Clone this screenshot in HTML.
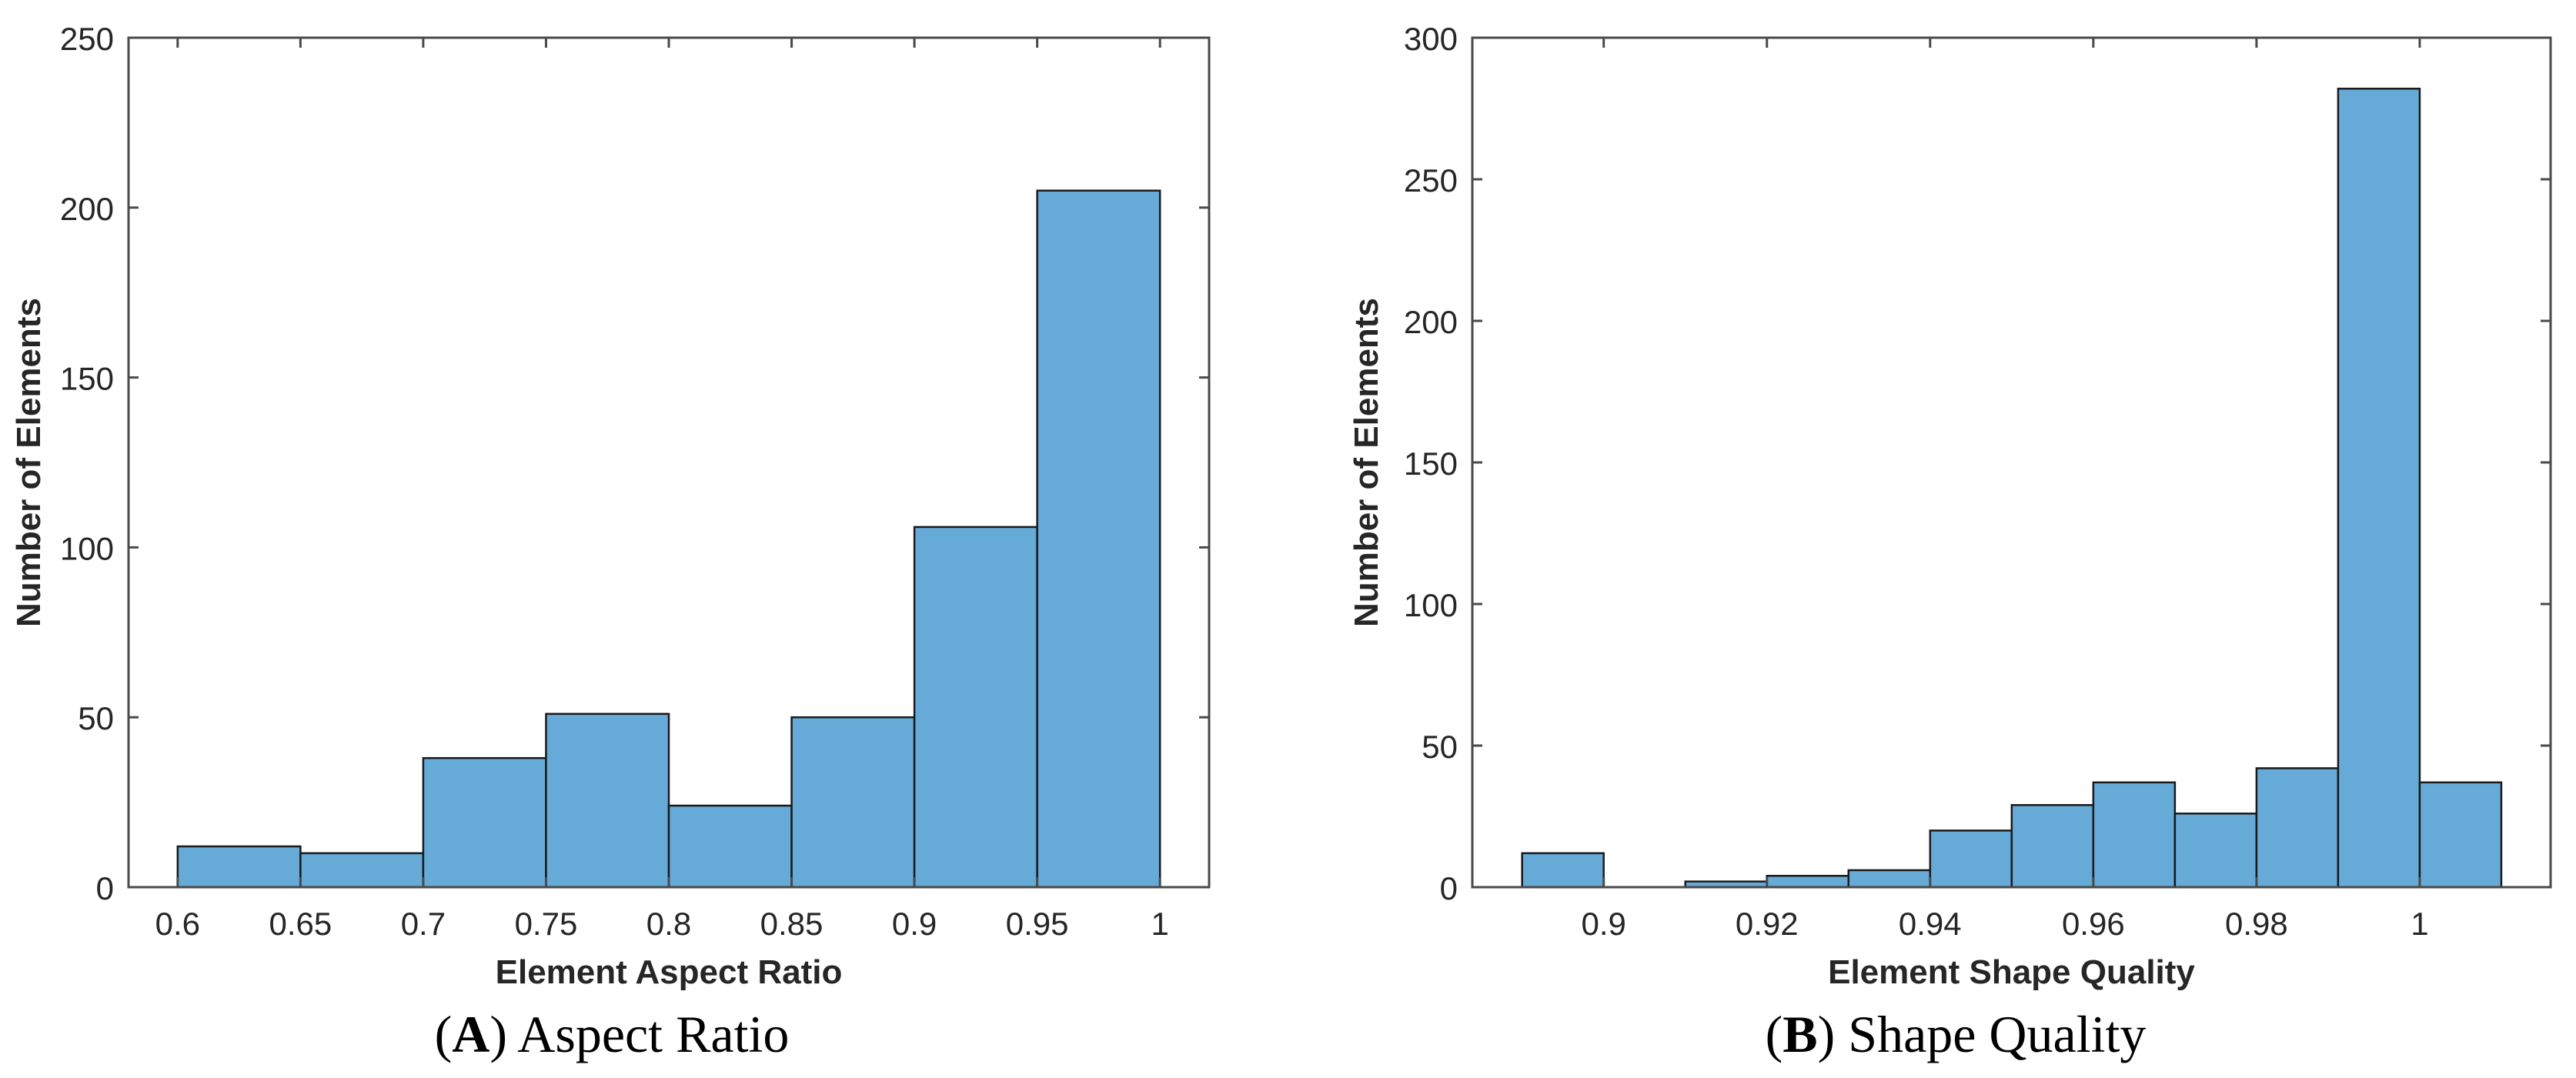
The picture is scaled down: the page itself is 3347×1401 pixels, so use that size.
<!DOCTYPE html>
<html><head><meta charset="utf-8"><style>
html,body{margin:0;padding:0;background:#fff;}
svg{display:block;}
</style></head><body>
<svg id="fig" width="3347" height="1401" viewBox="0 0 3347 1401" xmlns="http://www.w3.org/2000/svg"></svg>
<script>
const aEdges = [0.6,0.65,0.7,0.75,0.8,0.85,0.9,0.95,1.0];
const aCounts = [12,10,38,51,24,50,106,205];
const aXTicks = [0.6,0.65,0.7,0.75,0.8,0.85,0.9,0.95,1];
const aXTickLabels = ["0.6","0.65","0.7","0.75","0.8","0.85","0.9","0.95","1"];
const aYTicks = [0,50,100,150,200,250];
const bEdges = [0.89,0.90,0.91,0.92,0.93,0.94,0.95,0.96,0.97,0.98,0.99,1.00,1.01];
const bCounts = [12,0,2,4,6,20,29,37,26,42,282,37];
const bXTicks = [0.9,0.92,0.94,0.96,0.98,1];
const bXTickLabels = ["0.9","0.92","0.94","0.96","0.98","1"];
const bYTicks = [0,50,100,150,200,250,300];

const NS="http://www.w3.org/2000/svg";
const svg=document.getElementById('fig');
function mk(tag,attrs,parent){const e=document.createElementNS(NS,tag);for(const k in attrs)e.setAttribute(k,attrs[k]);(parent||svg).appendChild(e);return e;}

function panel(cfg){
  const g=mk('g',{});
  
  
  const {L,R,T,B,xmin,xmax,ymax}=cfg;
  const sx=v=>L+(v-xmin)/(xmax-xmin)*(R-L);
  const sy=v=>B-v/ymax*(B-T);
  for(let i=0;i<cfg.counts.length;i++){
    if(cfg.counts[i]<=0)continue;
    const x0=sx(cfg.edges[i]),x1=sx(cfg.edges[i+1]),y=sy(cfg.counts[i]);
    const r=mk('rect',{x:x0,y:y,width:x1-x0,height:B-y,fill:'#66AAD7',stroke:'#1a1a1a','stroke-width':2.5},g);
    
    
  }
  const box=mk('rect',{x:L,y:T,width:R-L,height:B-T,fill:'none',stroke:'#4a4a4a','stroke-width':3},g);
  
  
  const tl=13;
  cfg.xticks.forEach((v,i)=>{
    const x=sx(v);
    mk('line',{x1:x,y1:B,x2:x,y2:B-tl,stroke:'#4a4a4a','stroke-width':3},g);
    mk('line',{x1:x,y1:T,x2:x,y2:T+tl,stroke:'#4a4a4a','stroke-width':3},g);
    const t=mk('text',{x:x,y:B+62,'text-anchor':'middle','font-family':'Liberation Sans, sans-serif','font-size':42,fill:'#262626'},g);
    t.textContent=cfg.xlabels[i];
    
    
  });
  cfg.yticks.forEach(v=>{
    const y=sy(v);
    mk('line',{x1:L,y1:y,x2:L+tl,y2:y,stroke:'#4a4a4a','stroke-width':3},g);
    mk('line',{x1:R,y1:y,x2:R-tl,y2:y,stroke:'#4a4a4a','stroke-width':3},g);
    const t=mk('text',{x:L-19,y:y+16,'text-anchor':'end','font-family':'Liberation Sans, sans-serif','font-size':42,fill:'#262626'},g);
    t.textContent=String(v);
    
    
  });
  const xt=mk('text',{x:(L+R)/2,y:B+125,'text-anchor':'middle','font-family':'Liberation Sans, sans-serif','font-size':44,'font-weight':'bold',fill:'#262626'},g);
  xt.textContent=cfg.xtitle;
  
  
  const yt=mk('text',{x:0,y:0,'text-anchor':'middle','font-family':'Liberation Sans, sans-serif','font-size':44,'font-weight':'bold',fill:'#262626',transform:`translate(${cfg.ytx},${(T+B)/2}) rotate(-90)`},g);
  yt.textContent='Number of Elements';
  
  
  const cap=mk('text',{x:cfg.capx,y:1367,'text-anchor':'middle','font-family':'Liberation Serif, serif','font-size':68,fill:'#000'},g);
  cap.innerHTML='(<tspan font-weight="bold">'+cfg.letter+'</tspan>) '+cfg.caption;
  
  
}

panel({name:'panel-a-aspect-ratio',L:167,R:1571,T:49,B:1153,xmin:0.58,xmax:1.02,ymax:250,
  edges:aEdges,counts:aCounts,xticks:aXTicks,xlabels:aXTickLabels,yticks:aYTicks,
  xtitle:'Element Aspect Ratio',ytx:52,capx:795,letter:'A',caption:'Aspect Ratio'});
panel({name:'panel-b-shape-quality',L:1913,R:3314,T:49,B:1153,xmin:0.8839,xmax:1.01604,ymax:300,
  edges:bEdges,counts:bCounts,xticks:bXTicks,xlabels:bXTickLabels,yticks:bYTicks,
  xtitle:'Element Shape Quality',ytx:1790,capx:2541,letter:'B',caption:'Shape Quality'});
</script>
</body></html>
